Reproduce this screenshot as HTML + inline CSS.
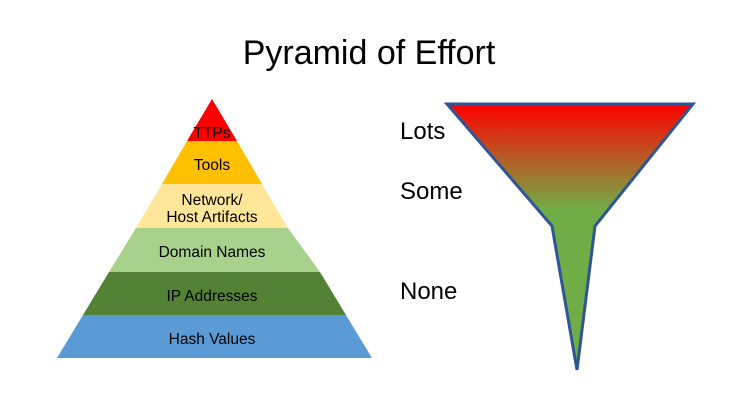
<!DOCTYPE html>
<html><head><style>
body{margin:0;background:#fff;}
svg{display:block;font-family:"Liberation Sans",Calibri,sans-serif;}
</style></head><body>
<svg width="738" height="412" viewBox="0 0 738 412" xmlns="http://www.w3.org/2000/svg">
<defs>
<linearGradient id="g" x1="0" y1="104" x2="0" y2="210" gradientUnits="userSpaceOnUse">
<stop offset="0" stop-color="#ff0000"/>
<stop offset="0.5" stop-color="#b85a25"/>
<stop offset="1" stop-color="#70ad47"/>
</linearGradient>
</defs>
<text x="369" y="64" font-size="34" text-anchor="middle" fill="#000">Pyramid of Effort</text>
<polygon points="212,99 187,141 237,141" fill="#ff0000"/>
<polygon points="187,141 237,141 262,184 162,184" fill="#ffc000"/>
<polygon points="162,184 262,184 288,228 136,228" fill="#ffe699"/>
<polygon points="136,228 288,228 320,272 109,272" fill="#a9d18e"/>
<polygon points="109,272 320,272 346,315 83,315" fill="#548235"/>
<polygon points="83,315 346,315 372,358 57,358" fill="#5b9bd5"/>
<g font-size="15.5" text-anchor="middle" fill="#000">
<text x="212" y="138">TTPs</text>
<text x="212" y="170">Tools</text>
<text x="212" y="205">Network/</text>
<text x="212" y="222">Host Artifacts</text>
<text x="212" y="257">Domain Names</text>
<text x="212" y="301">IP Addresses</text>
<text x="212" y="344">Hash Values</text>
</g>
<g font-size="24" fill="#000">
<text x="400" y="139">Lots</text>
<text x="400" y="199">Some</text>
<text x="400" y="299">None</text>
</g>
<polygon points="447,104 693,104 595,226 577,370 552,226" fill="url(#g)" stroke="#2f5597" stroke-width="3"/>
</svg>
</body></html>
